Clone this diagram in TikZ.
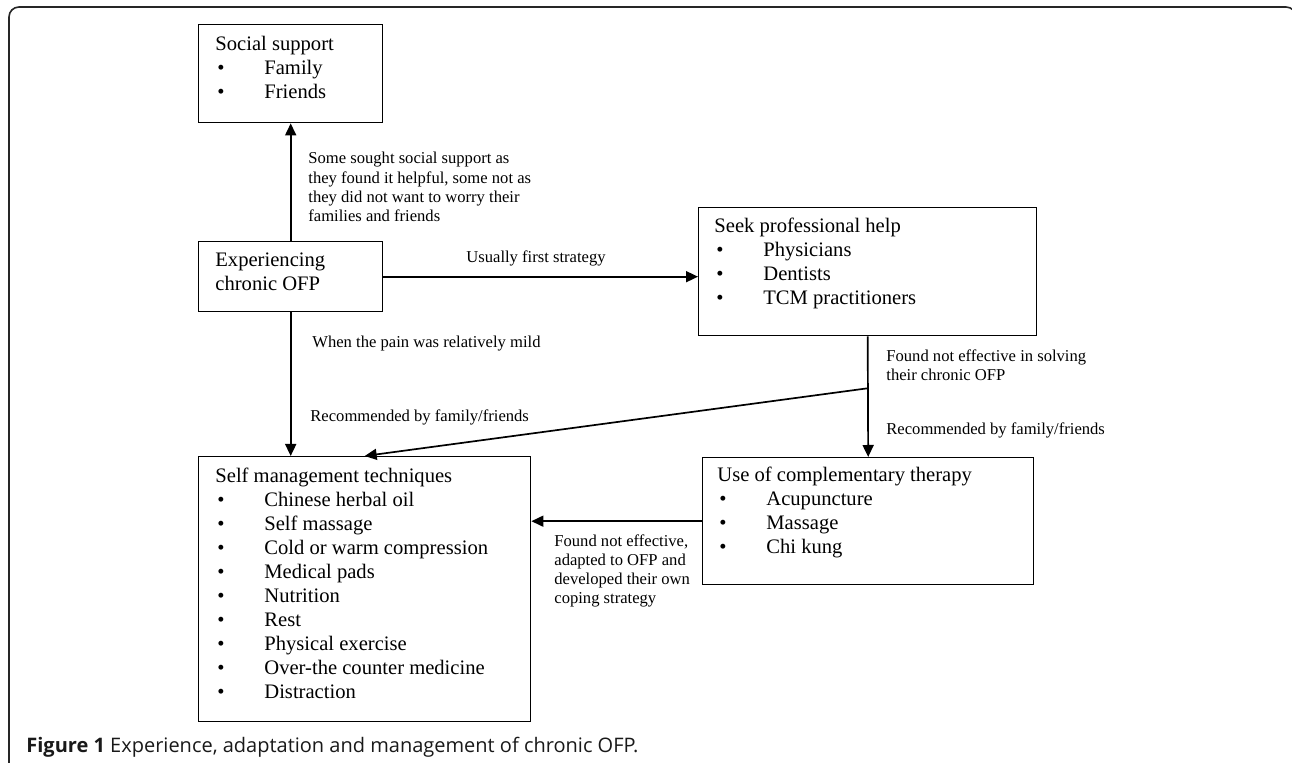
\documentclass[tikz,border=0pt]{standalone}
\usepackage{tikz}
\usepackage{xcolor}
\usepackage{fontspec}
\setmainfont{Liberation Serif}
\newfontfamily\capfont{Open Sans}
\usetikzlibrary{arrows.meta,calc}

\newcommand{\bul}{\makebox[24.5pt][l]{\hspace{1pt}\textbullet}}

\begin{document}
\begin{tikzpicture}[x=0.5pt,y=-0.5pt,
  box/.style={draw,line width=0.7pt,anchor=north west,inner sep=0},
  boxtext/.style={anchor=north west,align=left,inner sep=0,font=\fontsize{10.3}{12}\selectfont},
  note/.style={anchor=north west,align=left,inner sep=0,font=\fontsize{8.3}{9.65}\selectfont},
  flow/.style={line width=0.85pt,-{Triangle[length=6pt,width=5.5pt]}}]
\useasboundingbox (0,0) rectangle (1292,763);
\clip (0,0) rectangle (1292,763);
\draw[line width=0.8pt,rounded corners=5pt,black!85] (9,7) rectangle (1296,790);

\node[box,minimum width=92pt,minimum height=49pt] (social) at (198,24) {};
\node[box,minimum width=92pt,minimum height=35pt] (exp) at (198,241) {};
\node[box,minimum width=169pt,minimum height=64pt] (seek) at (698,207) {};
\node[box,minimum width=165.5pt,minimum height=63.5pt] (comp) at (702,457) {};
\node[box,minimum width=166pt,minimum height=132.5pt] (self) at (198,456) {};

\node[boxtext] (socialtxt) at (215,36) {Social support\\\bul Family\\\bul Friends};
\node[boxtext] (exptxt) at (215,252) {Experiencing\\chronic OFP};
\node[boxtext] (seektxt) at (714,218) {Seek professional help\\\bul Physicians\\\bul Dentists\\\bul TCM practitioners};
\node[boxtext] (comptxt) at (717,467) {Use of complementary therapy\\\bul Acupuncture\\\bul Massage\\\bul Chi kung};
\node[boxtext] (selftxt) at (215,468) {Self management techniques\\\bul Chinese herbal oil\\\bul Self massage\\\bul Cold or warm compression\\\bul Medical pads\\\bul Nutrition\\\bul Rest\\\bul Physical exercise\\\bul Over-the counter medicine\\\bul Distraction};

\node[note] (ssup) at (308,152) {Some sought social support as\\they found it helpful, some not as\\they did not want to worry their\\families and friends};
\node[note] (usual) at (466,250) {Usually first strategy};
\node[note] (mild) at (312,336) {When the pain was relatively mild};
\node[note] (recleft) at (310,409) {Recommended by family/friends};
\node[note] (notsolve) at (886,349) {Found not effective in solving\\their chronic OFP};
\node[note] (recright) at (886,422) {Recommended by family/friends};
\node[note] (adapt) at (554,534) {Found not effective,\\adapted to OFP and\\developed their own\\coping strategy};

\draw[flow] (exp.north) -- (social.south);
\draw[flow] (exp.east) -- (exp.east -| seek.west);
\draw[flow] (exp.south) -- (exp.south |- self.north);
\draw[flow] (seek.south) -- (comp.north);
\coordinate (split) at ($(seek.south)!0.43!(comp.north)$);
\draw[flow] (split) -- (self.north);
\draw[flow] (comp.west) -- (comp.west -| self.east);

\node[anchor=base west,inner sep=0,font=\capfont\fontsize{10}{12}\selectfont,black!90] (caption) at (26,753) {\textbf{Figure 1} Experience, adaptation and management of chronic OFP.};
\end{tikzpicture}
\end{document}
